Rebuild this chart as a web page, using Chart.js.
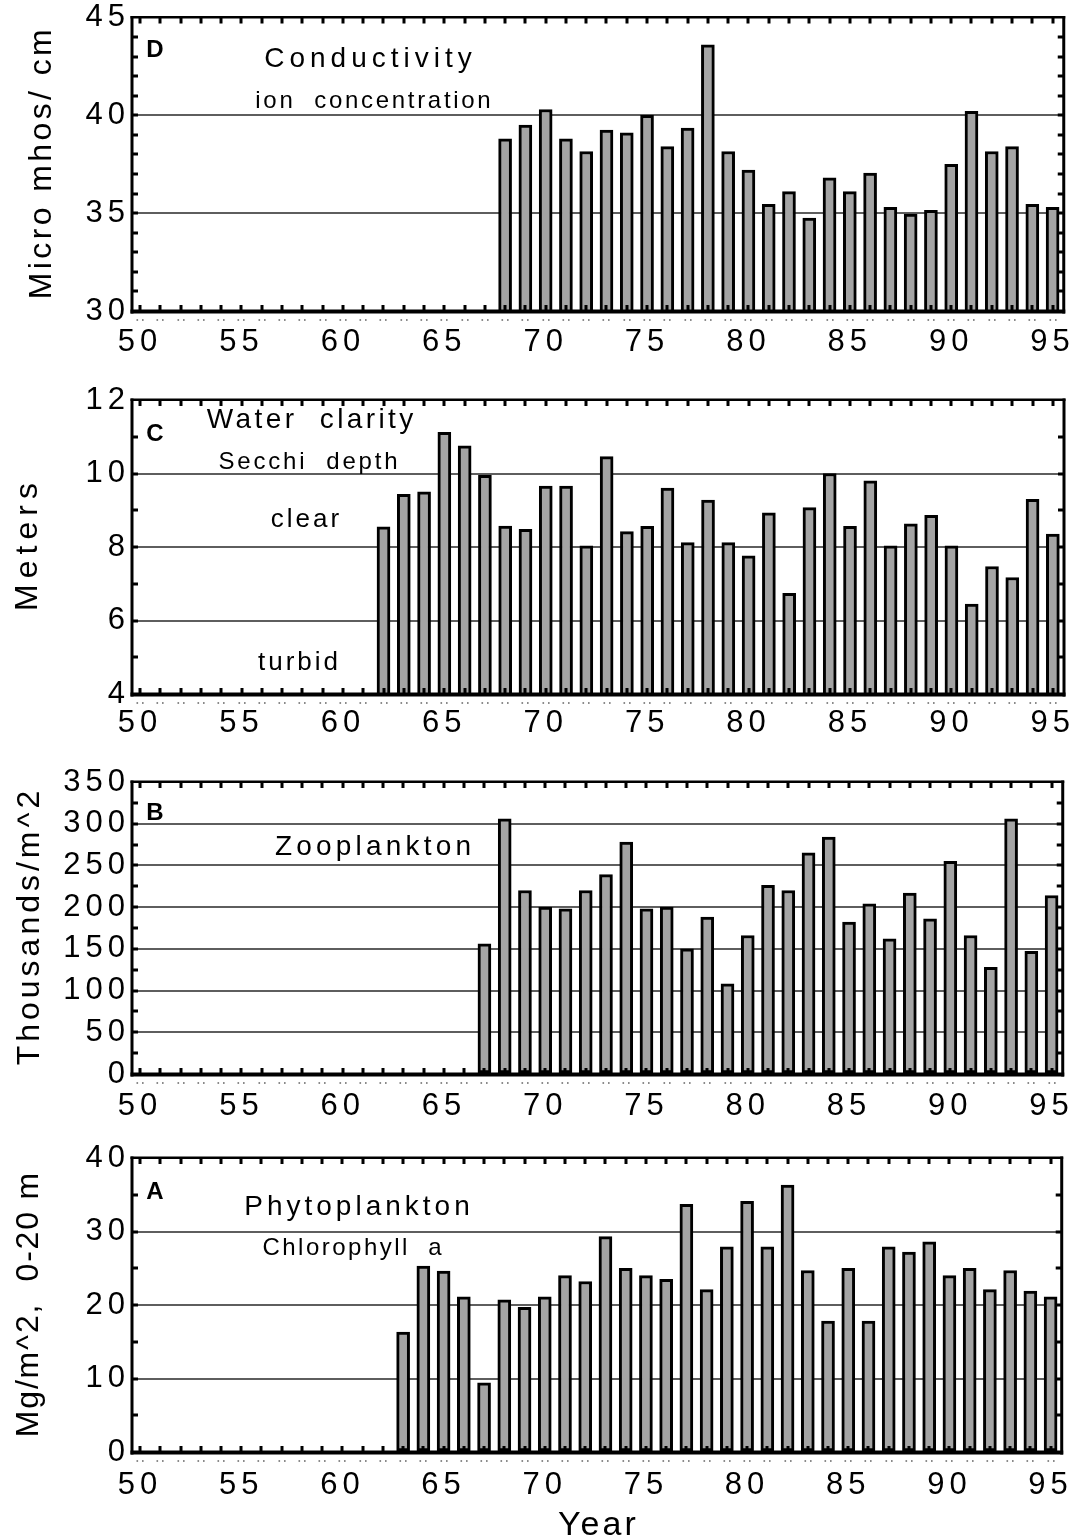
<!DOCTYPE html>
<html>
<head>
<meta charset="utf-8">
<script src="https://cdn.jsdelivr.net/npm/chart.js@4.4.1/dist/chart.umd.min.js"></script>
<style>
  html, body { margin: 0; padding: 0; background: #fff; }
  #wrap { position: relative; width: 1078px; height: 1540px; }
  canvas { position: absolute; left: 0; }
</style>
</head>
<body>
<div id="wrap">
  <canvas id="pD" width="1078" height="380" style="top:0px"></canvas>
  <canvas id="pC" width="1078" height="380" style="top:380px"></canvas>
  <canvas id="pB" width="1078" height="380" style="top:760px"></canvas>
  <canvas id="pA" width="1078" height="400" style="top:1140px"></canvas>
</div>
<script>
'use strict';

// ── Data ─────────────────────────────────────────────────────────────────
const X_TICKS = [50, 55, 60, 65, 70, 75, 80, 85, 90, 95];

// D: conductivity, micro mhos / cm
const COND_YEARS  = [68, 69, 70, 71, 72, 73, 74, 75, 76, 77, 78, 79, 80, 81,
                     82, 83, 84, 85, 86, 87, 88, 89, 90, 91, 92, 93, 94, 95];
const COND_VALUES = [38.8, 39.5, 40.3, 38.8, 38.15, 39.25, 39.1, 40.0, 38.4, 39.35,
                     43.6, 38.15, 37.2, 35.45, 36.1, 34.75, 36.8, 36.1, 37.05, 35.3,
                     34.95, 35.15, 37.5, 40.2, 38.15, 38.4, 35.45, 35.3];
const COND_TICKS  = [30, 35, 40, 45];

// C: Secchi depth, meters
const SECCHI_YEARS  = [62, 63, 64, 65, 66, 67, 68, 69, 70, 71, 72, 73, 74, 75, 76, 77, 78,
                       79, 80, 81, 82, 83, 84, 85, 86, 87, 88, 89, 90, 91, 92, 93, 94, 95];
const SECCHI_VALUES = [8.55, 9.43, 9.5, 11.12, 10.75, 9.95, 8.57, 8.48, 9.66, 9.66, 8.03,
                       10.46, 8.42, 8.56, 9.6, 8.12, 9.28, 8.12, 7.76, 8.93, 6.74, 9.07,
                       10.0, 8.56, 9.8, 8.03, 8.63, 8.86, 8.03, 6.45, 7.47, 7.17, 9.3, 8.35];
const SECCHI_TICKS  = [4, 6, 8, 10, 12];

// B: zooplankton, thousands / m^2
const ZOO_YEARS  = [67, 68, 69, 70, 71, 72, 73, 74, 75, 76, 77, 78, 79, 80, 81,
                    82, 83, 84, 85, 86, 87, 88, 89, 90, 91, 92, 93, 94, 95];
const ZOO_VALUES = [156, 306, 220, 200, 198, 220, 239, 278, 198, 200, 150, 188, 108, 166,
                    226, 220, 265, 284, 182, 204, 162, 217, 186, 255, 166, 128, 306, 147, 214];
const ZOO_TICKS  = [0, 50, 100, 150, 200, 250, 300, 350];

// A: chlorophyll a, mg / m^2, 0-20 m
const CHL_YEARS  = [63, 64, 65, 66, 67, 68, 69, 70, 71, 72, 73, 74, 75, 76, 77, 78, 79,
                    80, 81, 82, 83, 84, 85, 86, 87, 88, 89, 90, 91, 92, 93, 94, 95];
const CHL_VALUES = [16.3, 25.3, 24.6, 21.1, 9.4, 20.7, 19.7, 21.1, 24.0, 23.2, 29.3,
                    25.0, 24.0, 23.5, 33.7, 22.1, 27.9, 34.1, 27.9, 36.3, 24.7, 17.8,
                    25.0, 17.8, 27.9, 27.2, 28.6, 24.0, 25.0, 22.1, 24.7, 21.9, 21.1];
const CHL_TICKS  = [0, 10, 20, 30, 40];

// ── Panel layout ─────────────────────────────────────────────────────────
const FONT = '"Liberation Sans", Arial, Helvetica, sans-serif';

const PANELS = [
  {id: 'pD', years: COND_YEARS, values: COND_VALUES, yTicks: COND_TICKS, minor: 1,
   top: 17, xAxisH: 69, labelPad: 8,
   title: 'Micro mhos/ cm', titleX: 51, titleSp: 3.4,
   notes: [['D', 155, 57, 'bold 24px', 0],
           ['Conductivity', 368, 67, '28px', 5],
           ['ion  concentration', 373, 108, '24px', 2.7]]},
  {id: 'pC', years: SECCHI_YEARS, values: SECCHI_VALUES, yTicks: SECCHI_TICKS, minor: 1,
   top: 20, xAxisH: 66, labelPad: 6,
   title: 'Meters', titleX: 37, titleSp: 6,
   notes: [['C', 155, 61, 'bold 24px', 0],
           ['Water  clarity', 310, 48, '28px', 3.4],
           ['Secchi  depth', 308, 89, '24px', 2.8],
           ['clear', 305, 147, '26px', 3],
           ['turbid', 298, 290, '26px', 3]]},
  {id: 'pB', years: ZOO_YEARS, values: ZOO_VALUES, yTicks: ZOO_TICKS, minor: 25,
   top: 22, xAxisH: 66, labelPad: 9,
   title: 'Thousands/m^2', titleX: 39, titleSp: 4,
   notes: [['B', 155, 60, 'bold 24px', 0],
           ['Zooplankton', 373, 95, '28px', 4.2]]},
  {id: 'pA', years: CHL_YEARS, values: CHL_VALUES, yTicks: CHL_TICKS, minor: 5,
   top: 18, xAxisH: 88, labelPad: 10,
   title: 'Mg/m^2,  0-20 m', titleX: 38, titleSp: 1.8,
   notes: [['A', 155, 59, 'bold 24px', 0],
           ['Phytoplankton', 357, 75, '28px', 4],
           ['Chlorophyll  a', 352, 115, '24px', 2.5]],
   xTitle: ['Year', 395]},
];

// ── Frame, inner ticks and lettering ─────────────────────────────────────
function spacedText(ctx, text, x, y, font, sp) {
  ctx.font = font + ' ' + FONT;
  ctx.letterSpacing = sp + 'px';
  ctx.textAlign = 'center';
  ctx.fillText(text, x + sp / 2, y);
  ctx.letterSpacing = '0px';
}

const framePlugin = {
  id: 'frame',
  beforeDraw(chart) { chart.ctx.letterSpacing = '5px'; },
  beforeDatasetsDraw(chart) { chart.ctx.letterSpacing = '0px'; },
  afterDraw(chart, args, opts) {
    const p = opts.panel;
    const {ctx, chartArea: a} = chart;
    const x = chart.scales.x, y = chart.scales.y;
    ctx.save();
    ctx.letterSpacing = '0px';

    // frame
    ctx.fillStyle = '#000';
    ctx.fillRect(a.left - 1.5, a.top - 1.5, 3, a.bottom - a.top + 4);
    ctx.fillRect(a.right - 1.5, a.top - 1.5, 3, a.bottom - a.top + 4);
    ctx.fillRect(a.left - 1.5, a.top - 1.5, a.right - a.left + 3, 2.5);
    ctx.fillRect(a.left - 1.5, a.bottom - 1.5, a.right - a.left + 3, 4);

    // year ticks inside top and bottom, dotted marks under the axis
    for (let yr = 50; yr <= 95; yr++) {
      const px = Math.round(x.getPixelForValue(yr));
      ctx.fillStyle = '#000';
      ctx.fillRect(px - 1.5, a.top, 3, 6);
      ctx.fillRect(px - 1.5, a.bottom - 6, 3, 6);
      ctx.fillStyle = '#8a8a8a';
      ctx.fillRect(px - 3.5, a.bottom + 8, 1.6, 2);
      ctx.fillRect(px + 2, a.bottom + 8, 1.6, 2);
    }
    // minor y ticks on both sides
    ctx.fillStyle = '#000';
    const lo = p.yTicks[0], hi = p.yTicks[p.yTicks.length - 1];
    for (let v = lo + p.minor; v < hi; v += p.minor) {
      const py = Math.round(y.getPixelForValue(v));
      ctx.fillRect(a.left, py - 1.5, 6, 3);
      ctx.fillRect(a.right - 6, py - 1.5, 6, 3);
    }

    // in-panel lettering
    ctx.fillStyle = '#000';
    ctx.textBaseline = 'alphabetic';
    for (const [text, tx, ty, font, sp] of p.notes) spacedText(ctx, text, tx, ty, font, sp);

    // rotated y title
    ctx.save();
    ctx.translate(p.titleX, (a.top + a.bottom) / 2);
    ctx.rotate(-Math.PI / 2);
    spacedText(ctx, p.title, 0, 0, '32px', p.titleSp);
    ctx.restore();

    if (p.xTitle) spacedText(ctx, p.xTitle[0], (a.left + a.right) / 2, p.xTitle[1], '34px', 3);
    ctx.restore();
  },
};

// ── Charts ───────────────────────────────────────────────────────────────
function makePanel(p) {
  const lo = p.yTicks[0], hi = p.yTicks[p.yTicks.length - 1];
  return new Chart(document.getElementById(p.id), {
    type: 'bar',
    data: {
      datasets: [{
        data: p.years.map((yr, i) => ({x: yr, y: p.values[i]})),
        backgroundColor: '#a4a4a4',
        borderColor: '#000',
        borderWidth: 3,
        borderSkipped: false,
        barThickness: 13,
      }],
    },
    options: {
      responsive: false,
      animation: false,
      events: [],
      layout: {padding: {top: p.top, right: 14, left: 0, bottom: 0}},
      plugins: {legend: {display: false}, tooltip: {enabled: false}, frame: {panel: p}},
      scales: {
        x: {
          type: 'linear', min: 49.6, max: 95.55, offset: false,
          afterBuildTicks: s => { s.ticks = X_TICKS.map(v => ({value: v})); },
          afterFit: s => { s.height = p.xAxisH; },
          grid: {display: false},
          border: {display: false},
          ticks: {color: '#000', padding: p.labelPad, maxRotation: 0, autoSkip: false,
                  font: {family: FONT, size: 31, lineHeight: 1}},
        },
        y: {
          type: 'linear', min: lo, max: hi,
          afterBuildTicks: s => { s.ticks = p.yTicks.map(v => ({value: v})); },
          afterFit: s => { s.width = 132; },
          border: {display: false},
          grid: {
            drawTicks: false,
            lineWidth: 2,
            color: c => (c.tick && c.tick.value > lo && c.tick.value < hi) ? '#5e5e5e' : 'rgba(0,0,0,0)',
          },
          ticks: {color: '#000', padding: 2, autoSkip: false,
                  font: {family: FONT, size: 31, lineHeight: 1}},
        },
      },
    },
    plugins: [framePlugin],
  });
}

PANELS.forEach(makePanel);
</script>
</body>
</html>
